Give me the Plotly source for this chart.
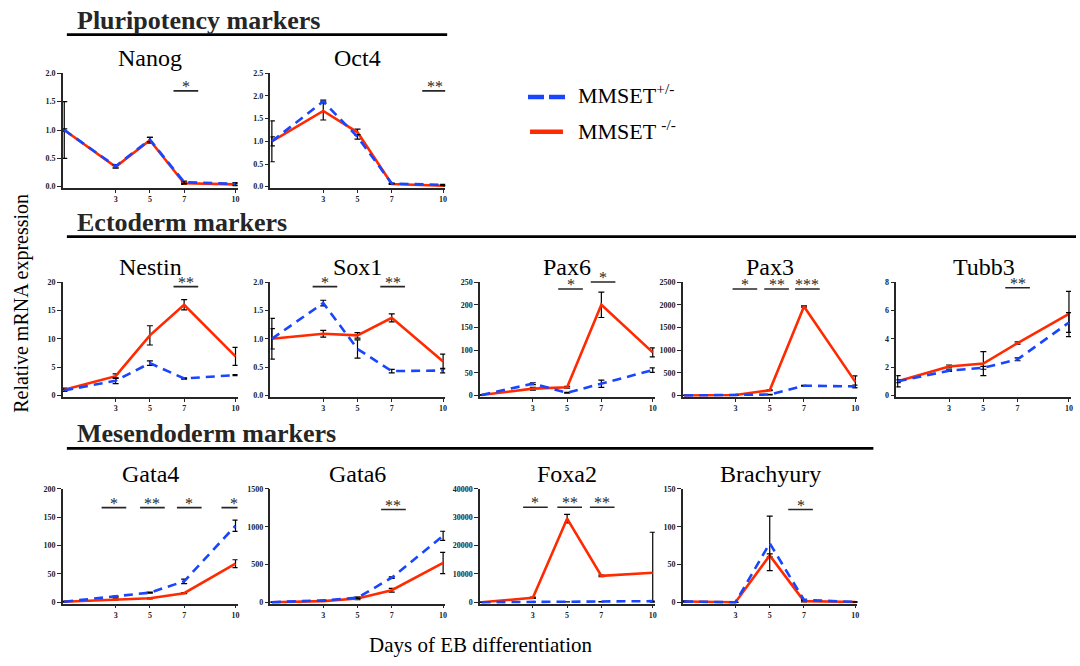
import plotly.graph_objects as go

# Days of embryoid-body differentiation
DAYS = [0, 3, 5, 7, 10]
DAY_TICKS = [3, 5, 7, 10]

# Relative mRNA expression (mean, error) for MMSET+/- (het) and MMSET-/- (ko)
NANOG_HET = [1.0, 0.36, 0.83, 0.08, 0.05]
NANOG_HET_ERR = [0.02, 0.03, 0.04, 0.02, 0.02]
NANOG_KO = [1.0, 0.35, 0.82, 0.06, 0.04]
NANOG_KO_ERR = [0.5, 0.02, 0.05, 0.02, 0.02]

OCT4_HET = [1.0, 1.88, 1.1, 0.07, 0.04]
OCT4_HET_ERR = [0.1, 0.03, 0.05, 0.01, 0.01]
OCT4_KO = [1.0, 1.67, 1.2, 0.06, 0.02]
OCT4_KO_ERR = [0.45, 0.2, 0.07, 0.01, 0.01]

NESTIN_HET = [0.9, 2.6, 5.7, 3.0, 3.6]
NESTIN_HET_ERR = [0.2, 0.5, 0.4, 0.1, 0.1]
NESTIN_KO = [1.0, 3.4, 10.6, 16.0, 6.9]
NESTIN_KO_ERR = [0.3, 0.4, 1.7, 0.9, 1.6]

SOX1_HET = [1.0, 1.63, 0.82, 0.43, 0.44]
SOX1_HET_ERR = [0.18, 0.05, 0.16, 0.03, 0.04]
SOX1_KO = [1.0, 1.09, 1.06, 1.37, 0.6]
SOX1_KO_ERR = [0.36, 0.06, 0.05, 0.07, 0.13]

PAX6_HET = [1, 26, 6, 26, 56]
PAX6_HET_ERR = [0.5, 2, 1, 8, 5]
PAX6_KO = [1, 15, 18, 200, 95]
PAX6_KO_ERR = [0.5, 3, 2, 28, 10]

PAX3_HET = [1, 5, 20, 215, 200]
PAX3_HET_ERR = [1, 2, 5, 10, 30]
PAX3_KO = [1, 10, 115, 1960, 300]
PAX3_KO_ERR = [1, 5, 10, 15, 130]

TUBB3_HET = [1.0, 1.75, 1.95, 2.55, 5.15]
TUBB3_HET_ERR = [0.1, 0.05, 0.1, 0.1, 0.7]
TUBB3_KO = [1.0, 2.05, 2.25, 3.7, 5.75]
TUBB3_KO_ERR = [0.4, 0.1, 0.85, 0.08, 1.6]

GATA4_HET = [1, 10, 17, 37, 135]
GATA4_HET_ERR = [0.5, 1, 1, 4, 10]
GATA4_KO = [1, 5, 7, 16, 68]
GATA4_KO_ERR = [0.5, 1, 1, 1, 7]

GATA6_HET = [1, 25, 60, 325, 880]
GATA6_HET_ERR = [1, 5, 10, 10, 60]
GATA6_KO = [1, 15, 50, 160, 520]
GATA6_KO_ERR = [1, 5, 15, 25, 140]

FOXA2_HET = [1, 100, 150, 200, 400]
FOXA2_HET_ERR = [20, 30, 30, 30, 50]
FOXA2_KO = [1, 1600, 29500, 9300, 10400]
FOXA2_KO_ERR = [50, 250, 1500, 300, 14300]

BRACHYURY_HET = [1, 0, 78, 3, 0.5]
BRACHYURY_HET_ERR = [0.5, 0, 36, 1, 0.2]
BRACHYURY_KO = [1, 0, 62, 1.5, 0.3]
BRACHYURY_KO_ERR = [0.5, 0, 2, 1, 0.2]

# Significance marks: (gene, day, stars)
SIGNIFICANCE = [
    ("Nanog", 7.1, "*"), ("Oct4", 9.5, "**"),
    ("Nestin", 7.1, "**"), ("Sox1", 3.1, "*"), ("Sox1", 7.05, "**"),
    ("Pax6", 5.2, "*"), ("Pax6", 7.1, "*"),
    ("Pax3", 3.55, "*"), ("Pax3", 5.4, "**"), ("Pax3", 7.2, "***"),
    ("Tubb3", 7.0, "**"),
    ("Gata4", 2.9, "*"), ("Gata4", 5.15, "**"), ("Gata4", 7.3, "*"), ("Gata4", 9.9, "*"),
    ("Gata6", 7.1, "**"),
    ("Foxa2", 3.15, "*"), ("Foxa2", 5.15, "**"), ("Foxa2", 7.05, "**"),
    ("Brachyury", 6.8, "*"),
]

# Panel layout: gene, data, column, row, y max, y tick step, tick format, sig-bar height
PANELS = [
    ("Nanog", NANOG_HET, NANOG_HET_ERR, NANOG_KO, NANOG_KO_ERR, 0, 0, 2.0, 0.5, ".1f", 0.847),
    ("Oct4", OCT4_HET, OCT4_HET_ERR, OCT4_KO, OCT4_KO_ERR, 1, 0, 2.5, 0.5, ".1f", 0.847),
    ("Nestin", NESTIN_HET, NESTIN_HET_ERR, NESTIN_KO, NESTIN_KO_ERR, 0, 1, 20, 5, "d", 0.96),
    ("Sox1", SOX1_HET, SOX1_HET_ERR, SOX1_KO, SOX1_KO_ERR, 1, 1, 2.0, 0.5, ".1f", 0.96),
    ("Pax6", PAX6_HET, PAX6_HET_ERR, PAX6_KO, PAX6_KO_ERR, 2, 1, 250, 50, "d", 0.94),
    ("Pax3", PAX3_HET, PAX3_HET_ERR, PAX3_KO, PAX3_KO_ERR, 3, 1, 2500, 500, "d", 0.94),
    ("Tubb3", TUBB3_HET, TUBB3_HET_ERR, TUBB3_KO, TUBB3_KO_ERR, 4, 1, 8, 2, "d", 0.95),
    ("Gata4", GATA4_HET, GATA4_HET_ERR, GATA4_KO, GATA4_KO_ERR, 0, 2, 200, 50, "d", 0.836),
    ("Gata6", GATA6_HET, GATA6_HET_ERR, GATA6_KO, GATA6_KO_ERR, 1, 2, 1500, 500, "d", 0.82),
    ("Foxa2", FOXA2_HET, FOXA2_HET_ERR, FOXA2_KO, FOXA2_KO_ERR, 2, 2, 40000, 10000, "d", 0.84),
    ("Brachyury", BRACHYURY_HET, BRACHYURY_HET_ERR, BRACHYURY_KO, BRACHYURY_KO_ERR, 3, 2, 150, 50, "d", 0.82),
]
SIG_LEVEL_OVERRIDE = {("Pax6", 7.1): 1.0}

SECTIONS = [("Pluripotency markers", 17, 31, 448),
            ("Ectoderm markers", 221, 235, 1078),
            ("Mesendoderm markers", 434, 449, 875)]

W, H = 1080, 666
COL_LEFT = [63, 271, 481, 684, 898]
ROW_TOP = [70, 281, 490]
PW, PH = 175, 116

RED = "#ff2a00"
BLUE = "#1a45ff"
SERIF = "Liberation Serif"
INK = "#262626"


def fx(px):
    return px / W


def fy(py):
    return 1 - py / H


def axis_ids(i):
    suffix = "" if i == 1 else str(i)
    return "x" + suffix, "y" + suffix, "xaxis" + suffix, "yaxis" + suffix


fig = go.Figure()
layout = dict(
    width=W, height=H, margin=dict(l=0, r=0, t=0, b=0),
    paper_bgcolor="white", plot_bgcolor="white", showlegend=False,
    font=dict(family=SERIF, color="black"),
)
annotations = []
shapes = []
panel_index = {}

for i, (gene, het, het_err, ko, ko_err, col, row, ymax, dtick, fmt, lvl) in enumerate(PANELS, start=1):
    xa, ya, xkey, ykey = axis_ids(i)
    panel_index[gene] = (xa, ya, lvl)
    left = COL_LEFT[col]
    top = ROW_TOP[row]
    err_style = dict(type="data", color="black", thickness=1.2, width=3)
    ko_minus = [min(e, v) for e, v in zip(ko_err, ko)]
    fig.add_trace(go.Scatter(
        x=DAYS, y=ko, mode="lines", xaxis=xa, yaxis=ya,
        line=dict(color=RED, width=2.6),
        error_y=dict(array=ko_err, arrayminus=ko_minus, symmetric=False, **err_style),
    ))
    fig.add_trace(go.Scatter(
        x=DAYS, y=het, mode="lines", xaxis=xa, yaxis=ya,
        line=dict(color=BLUE, width=2.6, dash="9px,6px"),
        error_y=dict(array=het_err, **err_style),
    ))
    axis_common = dict(
        showline=True, linecolor=INK, linewidth=1.5, showgrid=False, zeroline=False,
        ticks="outside", tickcolor=INK, tickwidth=1.2,
        tickfont=dict(family=SERIF, size=8, color="#222222", weight="bold"),
        fixedrange=True,
    )
    layout[xkey] = dict(
        domain=[fx(left), fx(left + PW)], anchor=ya, range=[-0.08, 10.12],
        tickvals=DAY_TICKS, ticktext=[str(d) for d in DAY_TICKS], ticklen=3, **axis_common,
    )
    layout[ykey] = dict(
        domain=[fy(top + PH), fy(top)], anchor=xa, range=[-0.012 * ymax, ymax * 1.0005],
        tick0=0, dtick=dtick, tickformat=fmt, ticklen=4, **axis_common,
    )
    annotations.append(dict(
        text=gene, x=fx(left + PW / 2), y=fy(top - 15), xref="paper", yref="paper",
        xanchor="center", yanchor="middle", showarrow=False,
        font=dict(family=SERIF, size=24, color="black"),
    ))

# Significance bars with asterisks
for gene, day, stars in SIGNIFICANCE:
    xa, ya, lvl = panel_index[gene]
    lvl = SIG_LEVEL_OVERRIDE.get((gene, day), lvl)
    shapes.append(dict(
        type="line", xref=xa, yref=f"{ya} domain",
        x0=day - 0.72, x1=day + 0.72, y0=lvl, y1=lvl,
        line=dict(color=INK, width=1.6),
    ))
    annotations.append(dict(
        text=stars, x=day, y=lvl, xref=xa, yref=f"{ya} domain",
        xanchor="center", yanchor="bottom", yshift=-6, showarrow=False,
        font=dict(family=SERIF, size=16, color=INK),
    ))

# Section headers with underline
for label, ty, ly, x_end in SECTIONS:
    annotations.append(dict(
        text=f"<b>{label}</b>", x=fx(75), y=fy(ty), xref="paper", yref="paper",
        xanchor="left", yanchor="middle", showarrow=False,
        font=dict(family=SERIF, size=26, color=INK),
    ))
    shapes.append(dict(
        type="line", xref="paper", yref="paper", x0=fx(67), x1=fx(x_end),
        y0=fy(ly), y1=fy(ly), line=dict(color="black", width=2.8),
    ))

# Legend
shapes.append(dict(type="line", xref="paper", yref="paper", x0=fx(529), x1=fx(567),
                   y0=fy(94), y1=fy(94), line=dict(color=BLUE, width=4.5, dash="16px,5px")))
shapes.append(dict(type="line", xref="paper", yref="paper", x0=fx(531), x1=fx(564),
                   y0=fy(129), y1=fy(129), line=dict(color=RED, width=4.5)))
for text, ty in [("MMSET<sup>+/-</sup>", 91), ("MMSET <sup>-/-</sup>", 127)]:
    annotations.append(dict(
        text=text, x=fx(577), y=fy(ty), xref="paper", yref="paper",
        xanchor="left", yanchor="middle", showarrow=False,
        font=dict(family=SERIF, size=22, color="black"),
    ))

# Shared axis titles
annotations.append(dict(
    text="Relative mRNA expression", x=fx(22), y=fy(302), xref="paper", yref="paper",
    xanchor="center", yanchor="middle", textangle=-90, showarrow=False,
    font=dict(family=SERIF, size=20, color="black"),
))
annotations.append(dict(
    text="Days of EB differentiation", x=fx(481), y=fy(648), xref="paper", yref="paper",
    xanchor="center", yanchor="middle", showarrow=False,
    font=dict(family=SERIF, size=21, color="black"),
))

layout["annotations"] = annotations
layout["shapes"] = shapes
fig.update_layout(**layout)
fig.write_html("out.html")
